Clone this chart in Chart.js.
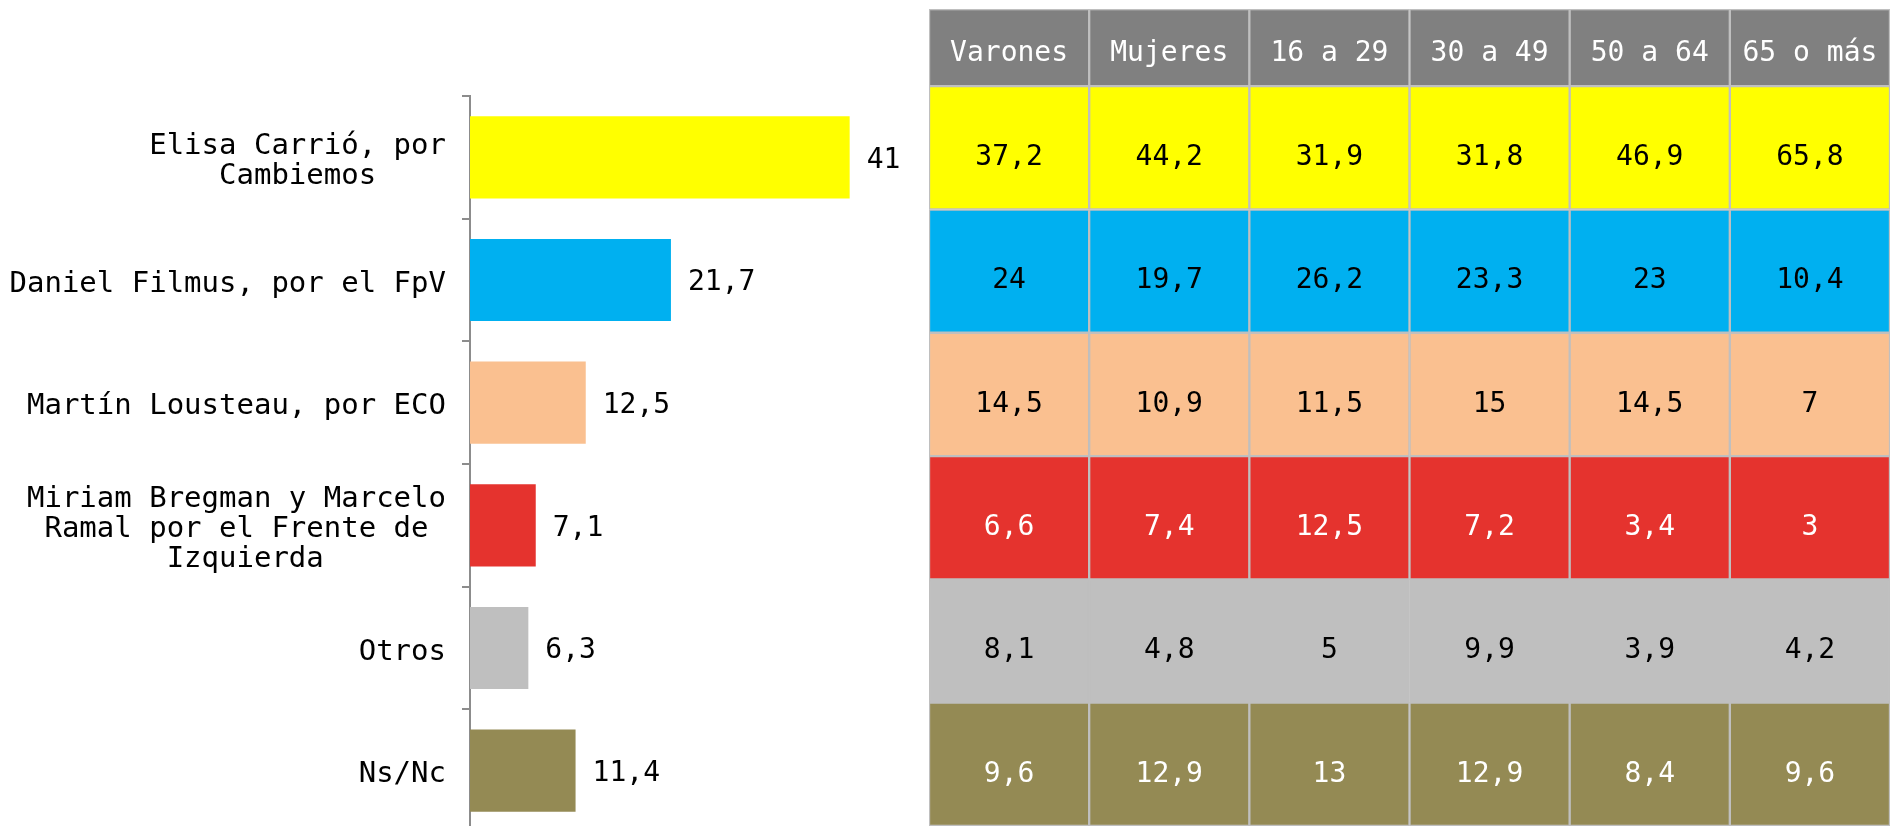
<!DOCTYPE html>
<html>
<head>
<meta charset="utf-8">
<script src="https://cdn.jsdelivr.net/npm/chart.js@4"></script>
<style>
    html, body {
        margin: 0;
        padding: 0;
        background: #ffffff;
        overflow: hidden;
    }
    #barChart {
        position: absolute;
        left: 0;
        top: 0;
    }
    #tableChart {
        position: absolute;
        left: 929px;
        top: 0;
    }
</style>
</head>
<body>
<canvas id="barChart" width="933" height="840"></canvas>
<canvas id="tableChart" width="961" height="826"></canvas>
<script>

/* Candidates (multi-line labels) */
var candidates = [
    ['Elisa Carrió, por', 'Cambiemos'],
    'Daniel Filmus, por el FpV',
    'Martín Lousteau, por ECO',
    ['Miriam Bregman y Marcelo', 'Ramal por el Frente de', 'Izquierda'],
    'Otros',
    'Ns/Nc',
];

/* Total vote intention */
var totals = [41, 21.7, 12.5, 7.1, 6.3, 11.4];

/* Breakdown columns */
var columns = ['Varones', 'Mujeres', '16 a 29', '30 a 49', '50 a 64', '65 o más'];

var varones = [37.2, 24, 14.5, 6.6, 8.1, 9.6];
var mujeres = [44.2, 19.7, 10.9, 7.4, 4.8, 12.9];
var edad16a29 = [31.9, 26.2, 11.5, 12.5, 5, 13];
var edad30a49 = [31.8, 23.3, 15, 7.2, 9.9, 12.9];
var edad50a64 = [46.9, 23, 14.5, 3.4, 3.9, 8.4];
var edad65mas = [65.8, 10.4, 7, 3, 4.2, 9.6];

var breakdown = [varones, mujeres, edad16a29, edad30a49, edad50a64, edad65mas];

var colors = ['#ffff00', '#00b0f0', '#fac090', '#e5332e', '#bfbfbf', '#948a54'];
var textColors = ['#000000', '#000000', '#000000', '#ffffff', '#000000', '#ffffff'];

var FONT = "'DejaVu Sans Mono', monospace";
var HEADER_H = 0.626;


/* Decimal comma */
function fmt(v) {
    return String(v).replace('.', ',');
}

/* Centre the lines of a multi-line label by padding (monospace font) */
function centerLines(label) {
    if (!Array.isArray(label)) {
        return label;
    }
    var w = Math.max.apply(null, label.map(function(l) { return l.length; }));
    return label.map(function(l) {
        var pad = w - l.length;
        return l + ' '.repeat(Math.floor(pad / 2));
    });
}


/*
 * Value labels at the end of the bars
 */
var valueLabels = {
    id: 'valueLabels',
    afterDatasetsDraw: function(chart) {
        var ctx = chart.ctx;
        var meta = chart.getDatasetMeta(0);
        ctx.save();
        ctx.font = '28px ' + FONT;
        ctx.fillStyle = '#000000';
        ctx.textAlign = 'left';
        ctx.textBaseline = 'middle';
        meta.data.forEach(function(bar, i) {
            ctx.fillText(fmt(totals[i]), bar.x + 17, bar.y + 3);
        });
        ctx.restore();
    }
};


/*
 * Text inside the table cells
 */
var cellLabels = {
    id: 'cellLabels',
    afterDatasetsDraw: function(chart) {
        var ctx = chart.ctx;
        ctx.save();
        ctx.font = '28px ' + FONT;
        ctx.textAlign = 'center';
        ctx.textBaseline = 'middle';
        chart.data.datasets.forEach(function(ds, i) {
            var meta = chart.getDatasetMeta(i);
            meta.data.forEach(function(cell, j) {
                var text;
                var dy = 10;
                if (i === 0) {
                    text = columns[j];
                    ctx.fillStyle = '#ffffff';
                    dy = 6;
                } else {
                    text = fmt(breakdown[j][i - 1]);
                    ctx.fillStyle = textColors[i - 1];
                }
                ctx.fillText(text, cell.x, (cell.y + cell.base) / 2 + dy);
            });
        });
        ctx.restore();
    }
};


function loadBarChart(context) {
    return new Chart(context, {
        type: 'bar',
        data: {
            labels: candidates.map(centerLines),
            datasets: [{
                data: totals,
                backgroundColor: colors,
                categoryPercentage: 1,
                barPercentage: 0.67,
            }]
        },
        options: {
            indexAxis: 'y',
            responsive: false,
            animation: false,
            devicePixelRatio: 1,
            layout: {padding: {top: 96, bottom: 8, right: 0}},
            plugins: {
                legend: {display: false},
                tooltip: {enabled: false},
            },
            scales: {
                x: {
                    display: false,
                    min: 0,
                    max: 50,
                },
                y: {
                    afterFit: function(scale) {
                        scale.width = 470;
                        scale.paddingTop = 0;
                        scale.paddingBottom = 0;
                    },
                    grid: {
                        drawOnChartArea: false,
                        tickLength: 8,
                        color: '#8c8c8c',
                        lineWidth: 2,
                    },
                    border: {
                        color: '#8c8c8c',
                        width: 2,
                    },
                    ticks: {
                        color: '#000000',
                        padding: 16,
                        labelOffset: 4,
                        font: {family: FONT, size: 29, lineHeight: 1.03},
                    }
                }
            }
        },
        plugins: [valueLabels]
    });
}


function loadTableChart(context) {
    var datasets = [{
        data: columns.map(function() { return HEADER_H; }),
        backgroundColor: '#808080',
    }];
    candidates.forEach(function(c, i) {
        datasets.push({
            data: columns.map(function() { return 1; }),
            backgroundColor: colors[i],
        });
    });
    datasets.forEach(function(ds) {
        ds.borderColor = '#bfbfbf';
        ds.borderWidth = 1.5;
        ds.borderSkipped = false;
        ds.categoryPercentage = 1;
        ds.barPercentage = 1;
    });

    return new Chart(context, {
        type: 'bar',
        data: {
            labels: columns,
            datasets: datasets
        },
        options: {
            responsive: false,
            animation: false,
            devicePixelRatio: 1,
            layout: {padding: {top: 9, bottom: 0, left: 0, right: 0}},
            plugins: {
                legend: {display: false},
                tooltip: {enabled: false},
            },
            scales: {
                x: {
                    display: false,
                    stacked: true,
                },
                y: {
                    display: false,
                    stacked: true,
                    reverse: true,
                    min: 0,
                    max: HEADER_H + candidates.length,
                }
            }
        },
        plugins: [cellLabels]
    });
}


loadBarChart(document.getElementById('barChart'));
loadTableChart(document.getElementById('tableChart'));

</script>
</body>
</html>
